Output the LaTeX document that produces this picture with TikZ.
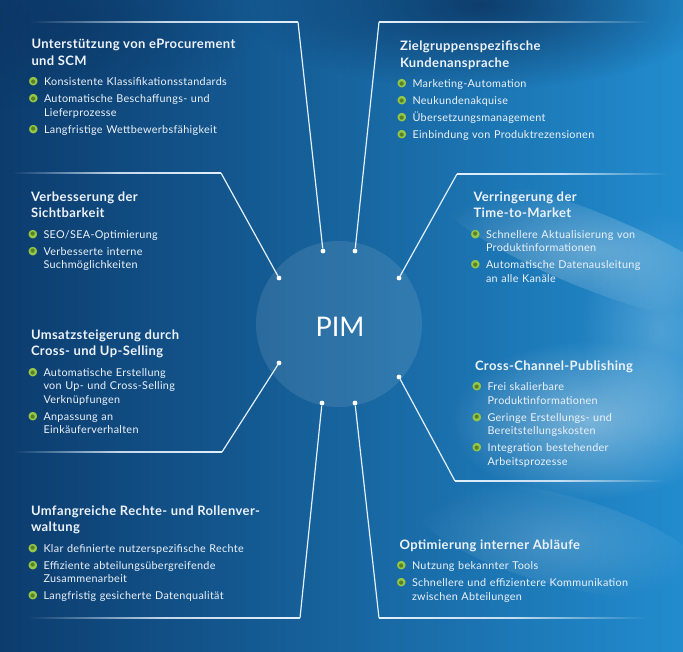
\documentclass[tikz,border=0pt]{standalone}
\usepackage{fontspec}
\setmainfont{Lato}[LetterSpace=3]
\newfontfamily\pimfont{Lato}
\newfontfamily\symf{DejaVu Sans}
\usetikzlibrary{fadings}
\definecolor{bgA}{RGB}{12,60,110}
\definecolor{bgB}{RGB}{19,94,157}
\definecolor{bgC}{RGB}{34,140,206}
\definecolor{bgD}{RGB}{10,48,92}
\definecolor{lineC}{RGB}{228,240,252}
\definecolor{bulg}{RGB}{150,200,70}
\definecolor{bulgd}{RGB}{88,128,40}
\definecolor{txtC}{RGB}{238,243,250}
\tikzfading[name=fadeleft, left color=transparent!100, right color=transparent!0, middle color=transparent!15]
\tikzfading[name=faderight, left color=transparent!0, right color=transparent!100, middle color=transparent!15]
\tikzfading[name=softglow, inner color=transparent!0, outer color=transparent!100]
\newcommand\bdot[2]{\makebox[0pt][c]{\raisebox{0.8pt}{$\vcenter{\hbox{\symf\fontsize{#1}{#1}\selectfont\textcolor{#2}{●}}}$}}}
\newcommand\bul{\makebox[12.5pt][l]{\hspace*{1.8pt}\bdot{11}{bulg}\bdot{5.5}{bulgd}}}
\newcommand\nl{\hfil\break}
\newcommand\ttl[1]{{\fontsize{13}{16.5}\selectfont\bfseries #1\par}\vspace{3.5pt}}
\newcommand\itm[1]{\par\vspace{3.5pt}\hangindent=12.5pt\hangafter=1\noindent\bul#1\par}
% faded horizontal segment: #1 fading, #2 left point, #3 right point
\newcommand\hseg[3]{\begin{scope}\path[scope fading=#1] ([yshift=-8pt]#2) rectangle ([yshift=8pt]#3);\draw[conn] (#2) -- (#3);\end{scope}}
\tikzset{
  txt/.style={anchor=base west, inner sep=0pt, outer sep=0pt, align=left, text width=270pt,
    font=\fontsize{10.8}{13.5}\selectfont, text=txtC},
  dot/.style={circle, fill=white, minimum size=4.8pt, inner sep=0pt},
  conn/.style={lineC, line width=1.2pt},
}
\begin{document}
\begin{tikzpicture}[x=1pt,y=-1pt]
\useasboundingbox (0,0) rectangle (683,651);
% background
\shade[left color=bgA, middle color=bgB, right color=bgC] (0,0) rectangle (683,651);
\fill[bgD, fill opacity=0.8, path fading=softglow] (480,5) ellipse (240 and 85);
\fill[bgD, fill opacity=0.5, path fading=softglow] (60,20) ellipse (200 and 90);
\fill[white, fill opacity=0.3, path fading=softglow, rotate around={-22:(590,250)}] (590,250) ellipse (170 and 38);
\fill[white, fill opacity=0.4, path fading=softglow] (590,420) ellipse (140 and 80);
\fill[white, fill opacity=0.2, path fading=softglow] (660,330) ellipse (80 and 120);
\fill[white, fill opacity=0.18, path fading=softglow, rotate around={-15:(560,540)}] (560,540) ellipse (150 and 45);
% PIM circle
\node[circle, minimum size=166pt, inner sep=0pt, fill=white, fill opacity=0.1] (pim) at (339,324) {};
\node[font=\pimfont\fontsize{27}{27}\selectfont, text=white, inner sep=0pt] (pimlabel) at (340,327) {PIM};
% dots
\node[dot] (d1) at (323,251) {};
\node[dot] (d2) at (355,251) {};
\node[dot] (d3) at (279,278) {};
\node[dot] (d4) at (399,278) {};
\node[dot] (d5) at (279,363) {};
\node[dot] (d6) at (399,377) {};
\node[dot] (d7) at (322,403) {};
\node[dot] (d8) at (355,403) {};
% corners and free ends
\coordinate (c1) at (298,22);  \coordinate (e1) at (30,22);
\coordinate (c2) at (379,22);  \coordinate (e2) at (650,22);
\coordinate (c3) at (221,173); \coordinate (e3) at (12,173);
\coordinate (c4) at (457,174); \coordinate (e4) at (668,174);
\coordinate (c5) at (222,452); \coordinate (e5) at (14,452);
\coordinate (c6) at (455,481); \coordinate (e6) at (665,481);
\coordinate (c7) at (300,618); \coordinate (e7) at (28,618);
\coordinate (c8) at (379,618); \coordinate (e8) at (648,618);
% connectors
\draw[conn] (d1) -- (c1);
\draw[conn] (d2) -- (c2);
\draw[conn] (d3) -- (c3);
\draw[conn] (d4) -- (c4);
\draw[conn] (d5) -- (c5);
\draw[conn] (d6) -- (c6);
\draw[conn] (d7) -- (c7);
\draw[conn] (d8) -- (c8);
\hseg{fadeleft}{e1}{c1}
\hseg{faderight}{c2}{e2}
\hseg{fadeleft}{e3}{c3}
\hseg{faderight}{c4}{e4}
\hseg{fadeleft}{e5}{c5}
\hseg{faderight}{c6}{e6}
\hseg{fadeleft}{e7}{c7}
\hseg{faderight}{c8}{e8}
% texts
\node[txt] (t1) at (31.5,48.5) {\ttl{Unterstützung von eProcurement\\und SCM}%
\itm{Konsistente Klassifikationsstandards}%
\itm{Automatische Beschaffungs- und\nl Lieferprozesse}%
\itm{Langfristige Wettbewerbsfähigkeit}};
\node[txt] (t2) at (400,50.5) {\ttl{Zielgruppenspezifische\\Kundenansprache}%
\itm{Marketing-Automation}%
\itm{Neukundenakquise}%
\itm{Übersetzungsmanagement}%
\itm{Einbindung von Produktrezensionen}};
\node[txt] (t3) at (31,201) {\ttl{Verbesserung der\\Sichtbarkeit}%
\itm{SEO/SEA-Optimierung}%
\itm{Verbesserte interne\nl Suchmöglichkeiten}};
\node[txt] (t4) at (473.5,201) {\ttl{Verringerung der\\Time-to-Market}%
\itm{Schnellere Aktualisierung von\nl Produktinformationen}%
\itm{Automatische Datenausleitung\nl an alle Kanäle}};
\node[txt] (t5) at (31,339.3) {\ttl{Umsatzsteigerung durch\\Cross- und Up-Selling}%
\itm{Automatische Erstellung\nl von Up- und Cross-Selling\nl Verknüpfungen}%
\itm{Anpassung an\nl Einkäuferverhalten}};
\node[txt] (t6) at (475,370) {\ttl{Cross-Channel-Publishing}%
\itm{Frei skalierbare\nl Produktinformationen}%
\itm{Geringe Erstellungs- und\nl Bereitstellungskosten}%
\itm{Integration bestehender\nl Arbeitsprozesse}};
\node[txt] (t7) at (31,515) {\ttl{Umfangreiche Rechte- und Rollenver-\\waltung}%
\itm{Klar definierte nutzerspezifische Rechte}%
\itm{Effiziente abteilungsübergreifende\nl Zusammenarbeit}%
\itm{Langfristig gesicherte Datenqualität}};
\node[txt] (t8) at (399.5,549) {\ttl{Optimierung interner Abläufe}%
\itm{Nutzung bekannter Tools}%
\itm{Schnellere und effizientere Kommunikation\nl zwischen Abteilungen}};
\end{tikzpicture}
\end{document}
